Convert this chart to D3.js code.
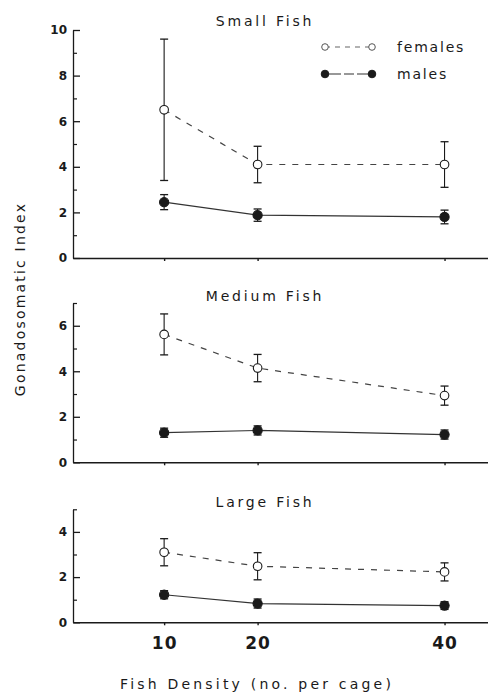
<!DOCTYPE html>
<html>
<head>
<meta charset="utf-8">
<script src="https://cdn.jsdelivr.net/npm/d3@7"></script>
<style>
  body { margin: 0; background: #fff; }
  svg { display: block; }
  .tick text { font-family: "DejaVu Sans", sans-serif; }
</style>
</head>
<body>
<div id="chart"></div>
<script>
// data
var densities = [10, 20, 40];
var panelTitles = ["Small Fish", "Medium Fish", "Large Fish"];
var yMax = [10, 7, 5];
var femaleMean = [[6.5, 4.1, 4.1], [5.62, 4.14, 2.93], [3.1, 2.48, 2.23]];
var femaleErr = [[3.1, 0.8, 1.0], [0.9, 0.6, 0.42], [0.6, 0.6, 0.4]];
var maleMean = [[2.45, 1.88, 1.8], [1.3, 1.4, 1.22], [1.22, 0.83, 0.74]];
var maleErr = [[0.33, 0.27, 0.3], [0.2, 0.2, 0.2], [0.18, 0.2, 0.17]];
var majorTicks = [[0, 2, 4, 6, 8, 10], [0, 2, 4, 6], [0, 2, 4]];
var minorTicks = [[1, 3, 5, 7, 9], [1, 3, 5, 7], [1, 3, 5]];
var legendLabels = ["females", "males"];

var svgW = 488, svgH = 695;
var svg = d3.select("#chart").append("svg")
  .attr("width", svgW)
  .attr("height", svgH);

var ink = "#1a1a1a";
var xScale = d3.scaleLinear().domain([0.25, 44.65]).range([73, 488]);

// vertical extent of each panel (top, bottom)
var panelBox = [[30, 258], [303, 462.3], [509.3, 622.3]];
var titleY = [26, 301, 507];

panelTitles.forEach(function(title, p) {
  var y = d3.scaleLinear().domain([0, yMax[p]]).range([panelBox[p][1], panelBox[p][0]]);
  var g = svg.append("g");

  // y axis, ticks pointing inward
  var yAxis = g.append("g")
    .attr("transform", "translate(73,0)")
    .call(d3.axisLeft(y).tickValues(majorTicks[p]).tickFormat(d3.format("d"))
      .tickSizeInner(-7).tickSizeOuter(0).tickPadding(6));
  yAxis.selectAll("text").attr("font-size", 12).attr("font-weight", "bold").attr("fill", ink);
  yAxis.selectAll("line, path").attr("stroke", ink).attr("stroke-width", 1.3);

  var yMinor = g.append("g")
    .attr("transform", "translate(73,0)")
    .call(d3.axisLeft(y).tickValues(minorTicks[p]).tickSize(-4).tickFormat(""));
  yMinor.select(".domain").remove();
  yMinor.selectAll("line").attr("stroke", ink).attr("stroke-width", 1.2);

  // x axis
  var xAxis = g.append("g")
    .attr("transform", "translate(0," + panelBox[p][1] + ")")
    .call(d3.axisBottom(xScale).tickValues(densities).tickSizeInner(3).tickSizeOuter(0).tickPadding(12)
      .tickFormat(p === 2 ? d3.format("d") : ""));
  xAxis.selectAll("line, path").attr("stroke", ink).attr("stroke-width", 1.4);
  xAxis.selectAll("text").attr("font-size", 17).attr("font-weight", "bold")
    .attr("letter-spacing", 1).attr("fill", ink);

  // title
  g.append("text")
    .attr("x", 265)
    .attr("y", titleY[p])
    .attr("text-anchor", "middle")
    .attr("font-family", "DejaVu Sans, sans-serif")
    .attr("font-size", 14)
    .attr("letter-spacing", 2.8)
    .attr("fill", ink)
    .text(title);

  var series = [
    {mean: femaleMean[p], err: femaleErr[p], open: true},
    {mean: maleMean[p], err: maleErr[p], open: false}
  ];

  series.forEach(function(s) {
    var pts = densities.map(function(d, i) { return {x: d, m: s.mean[i], e: s.err[i]}; });

    g.append("path")
      .datum(pts)
      .attr("fill", "none")
      .attr("stroke", s.open ? "#444" : "#333")
      .attr("stroke-width", 1.2)
      .attr("stroke-dasharray", s.open ? "6,7" : null)
      .attr("d", d3.line().x(function(d) { return xScale(d.x); }).y(function(d) { return y(d.m); }));

    var eb = g.selectAll(null).data(pts).enter().append("g");
    eb.append("line")
      .attr("x1", function(d) { return xScale(d.x); })
      .attr("x2", function(d) { return xScale(d.x); })
      .attr("y1", function(d) { return y(d.m + d.e); })
      .attr("y2", function(d) { return y(d.m - d.e); })
      .attr("stroke", ink).attr("stroke-width", 1.1);
    [1, -1].forEach(function(sign) {
      eb.append("line")
        .attr("x1", function(d) { return xScale(d.x) - 4; })
        .attr("x2", function(d) { return xScale(d.x) + 4; })
        .attr("y1", function(d) { return y(d.m + sign * d.e); })
        .attr("y2", function(d) { return y(d.m + sign * d.e); })
        .attr("stroke", ink).attr("stroke-width", 1.3);
    });
    eb.append("circle")
      .attr("cx", function(d) { return xScale(d.x); })
      .attr("cy", function(d) { return y(d.m); })
      .attr("r", s.open ? 4.3 : 4.6)
      .attr("fill", s.open ? "#fff" : ink)
      .attr("stroke", ink)
      .attr("stroke-width", 1.1);
  });
});

// legend in the top panel
var legendY = [47, 74];
legendLabels.forEach(function(lab, i) {
  var open = i === 0;
  var lg = svg.append("g");
  lg.append("line")
    .attr("x1", 325).attr("x2", 372)
    .attr("y1", legendY[i]).attr("y2", legendY[i])
    .attr("stroke", open ? "#666" : "#333")
    .attr("stroke-width", 1.2)
    .attr("stroke-dasharray", open ? "5,5" : "16,3,10,3");
  [325, 372].forEach(function(cx) {
    lg.append("circle")
      .attr("cx", cx).attr("cy", legendY[i])
      .attr("r", open ? 3.3 : 3.8)
      .attr("fill", open ? "#fff" : ink)
      .attr("stroke", open ? "#555" : ink)
      .attr("stroke-width", 1);
  });
  lg.append("text")
    .attr("x", 397)
    .attr("y", legendY[i] + 5)
    .attr("font-family", "DejaVu Sans, sans-serif")
    .attr("font-size", 14)
    .attr("letter-spacing", 1.8)
    .attr("fill", ink)
    .text(lab);
});

// axis titles
svg.append("text")
  .attr("transform", "translate(25,299) rotate(-90)")
  .attr("text-anchor", "middle")
  .attr("font-family", "DejaVu Sans, sans-serif")
  .attr("font-size", 14)
  .attr("letter-spacing", 2.2)
  .attr("fill", ink)
  .text("Gonadosomatic  Index");

svg.append("text")
  .attr("x", 257)
  .attr("y", 689)
  .attr("text-anchor", "middle")
  .attr("font-family", "DejaVu Sans, sans-serif")
  .attr("font-size", 14)
  .attr("letter-spacing", 3.2)
  .attr("fill", ink)
  .text("Fish Density  (no. per cage)");
</script>
</body>
</html>
